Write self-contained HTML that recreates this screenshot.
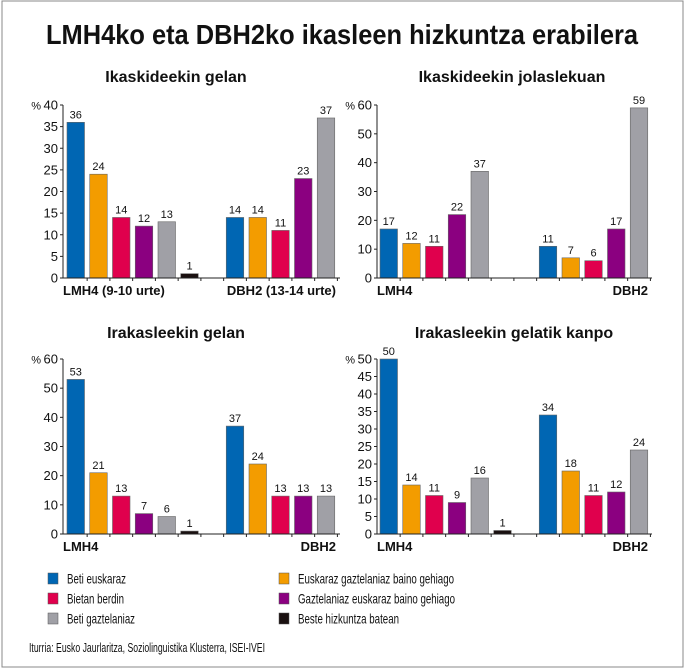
<!DOCTYPE html>
<html><head><meta charset="utf-8"><style>
html,body{margin:0;padding:0;background:#fff}
svg{display:block}
text{font-family:"Liberation Sans",Arial,sans-serif;fill:#111}
.n{font-family:"Liberation Sans Narrow","Liberation Sans",sans-serif}
</style></head><body>
<svg id="s" width="685" height="668" viewBox="0 0 685 668" xmlns="http://www.w3.org/2000/svg">
<rect x="2" y="1" width="681" height="666" fill="#fff" stroke="#888" stroke-width="1"/>
<text x="342" y="44" text-anchor="middle" font-size="28" font-weight="bold" textLength="592" lengthAdjust="spacingAndGlyphs">LMH4ko eta DBH2ko ikasleen hizkuntza erabilera</text>
<text x="176" y="82" text-anchor="middle" font-size="16" font-weight="bold">Ikaskideekin gelan</text>
<text x="512" y="82" text-anchor="middle" font-size="16" font-weight="bold">Ikaskideekin jolaslekuan</text>
<text x="176" y="338" text-anchor="middle" font-size="16" font-weight="bold">Irakasleekin gelan</text>
<text x="514" y="338" text-anchor="middle" font-size="16" font-weight="bold">Irakasleekin gelatik kanpo</text>
<g id="g"></g>
<g font-size="14">
<rect x="48" y="573" width="10" height="11" fill="#0066b3" stroke="#555" stroke-width=".5"/>
<text class="n" x="67" y="583.5" textLength="59" lengthAdjust="spacingAndGlyphs">Beti euskaraz</text>
<rect x="48" y="593" width="10" height="11" fill="#e0004d" stroke="#555" stroke-width=".5"/>
<text class="n" x="67" y="603.5" textLength="57" lengthAdjust="spacingAndGlyphs">Bietan berdin</text>
<rect x="48" y="613" width="10" height="11" fill="#a0a0a6" stroke="#555" stroke-width=".5"/>
<text class="n" x="67" y="623.5" textLength="68" lengthAdjust="spacingAndGlyphs">Beti gaztelaniaz</text>
<rect x="279" y="573" width="10" height="11" fill="#f39c00" stroke="#555" stroke-width=".5"/>
<text class="n" x="298" y="583.5" textLength="156" lengthAdjust="spacingAndGlyphs">Euskaraz gaztelaniaz baino gehiago</text>
<rect x="279" y="593" width="10" height="11" fill="#8b0080" stroke="#555" stroke-width=".5"/>
<text class="n" x="298" y="603.5" textLength="157" lengthAdjust="spacingAndGlyphs">Gaztelaniaz euskaraz baino gehiago</text>
<rect x="279" y="613" width="10" height="11" fill="#1a1010" stroke="#555" stroke-width=".5"/>
<text class="n" x="298" y="623.5" textLength="101" lengthAdjust="spacingAndGlyphs">Beste hizkuntza batean</text>
<text class="n" x="29" y="652" font-size="13" textLength="236" lengthAdjust="spacingAndGlyphs">Iturria: Eusko Jaurlaritza, Soziolinguistika Klusterra, ISEI-IVEI</text>
</g>
</svg>
<script>
var cols=["#0066b3","#f39c00","#e0004d","#8b0080","#a0a0a6","#1a1010"];
var charts=[
{ax:63,x0:67,y0:278,top:105,max:40,step:5,a:[36,24,14,12,13,1],b:[14,14,11,23,37],la:"LMH4 (9-10 urte)",lb:"DBH2 (13-14 urte)",end:340},
{ax:377,x0:380,y0:278,top:105,max:60,step:10,a:[17,12,11,22,37,null],b:[11,7,6,17,59],la:"LMH4",lb:"DBH2",end:652},
{ax:63,x0:67,y0:534,top:359,max:60,step:10,a:[53,21,13,7,6,1],b:[37,24,13,13,13],la:"LMH4",lb:"DBH2",end:340},
{ax:377,x0:380,y0:534,top:359,max:50,step:5,a:[50,14,11,9,16,1],b:[34,18,11,12,24],la:"LMH4",lb:"DBH2",end:652}
];
var h="";
charts.forEach(function(c){
 var sc=(c.y0-c.top)/c.max, st=22.75, w=17.5;
 h+='<line x1="'+c.ax+'" y1="'+c.top+'" x2="'+c.ax+'" y2="'+c.y0+'" stroke="#222" stroke-width="1"/>';
 for(var v=0;v<=c.max;v+=c.step){var y=c.y0-v*sc;
  h+='<line x1="'+(c.ax-3)+'" y1="'+y+'" x2="'+c.ax+'" y2="'+y+'" stroke="#222"/>';
  h+='<text x="'+(c.ax-5)+'" y="'+(y+4.5)+'" font-size="13" text-anchor="end">'+v+'</text>';}
 h+='<text x="'+(c.ax-22)+'" y="'+(c.top+4.5)+'" font-size="11" text-anchor="end">%</text>';
 var vals=c.a.concat([null]).concat(c.b);
 while(vals.length<12)vals.splice(5,0,null);
 for(var i=0;i<12;i++){var v=vals[i];if(v==null)continue;
  var col=i<6?cols[i]:cols[i-7];var x=c.x0+i*st,y=c.y0-v*sc;
  h+='<rect x="'+x+'" y="'+y+'" width="'+w+'" height="'+(v*sc)+'" fill="'+col+'" stroke="#666" stroke-width=".6"/>';
  h+='<text x="'+(x+w/2)+'" y="'+(y-4)+'" font-size="11" text-anchor="middle">'+v+'</text>';}
 h+='<line x1="'+c.ax+'" y1="'+c.y0+'" x2="'+c.end+'" y2="'+c.y0+'" stroke="#222"/>';
 for(var i=1;i<=12;i++){var x=c.x0+i*st-2.6;h+='<line x1="'+x+'" y1="'+c.y0+'" x2="'+x+'" y2="'+(c.y0+3)+'" stroke="#222"/>';}
 h+='<text x="'+c.ax+'" y="'+(c.y0+17)+'" font-size="13" font-weight="bold">'+c.la+'</text>';
 h+='<text x="'+(c.end-4)+'" y="'+(c.y0+17)+'" font-size="13" font-weight="bold" text-anchor="end">'+c.lb+'</text>';
});
document.getElementById("g").innerHTML=h;
</script>
</body></html>
